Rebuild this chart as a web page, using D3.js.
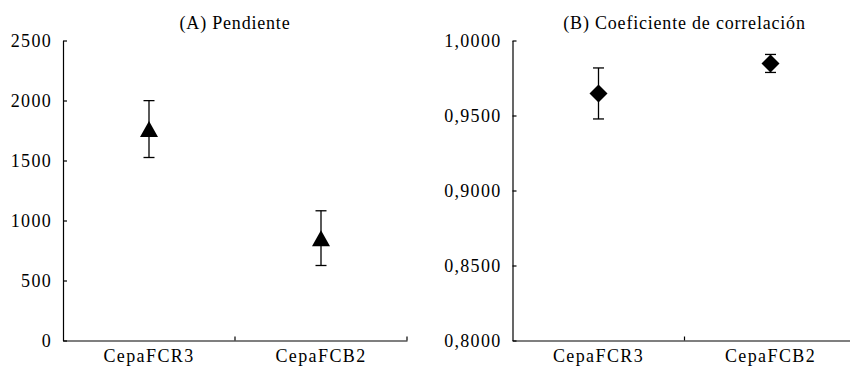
<!DOCTYPE html>
<html>
<head>
<meta charset="utf-8">
<script src="https://cdn.jsdelivr.net/npm/d3@7/dist/d3.min.js"></script>
<style>
  html, body { margin: 0; padding: 0; background: #fff; }
  svg { display: block; }
  text { font-family: "Liberation Serif", "Times New Roman", serif; fill: #000; }
</style>
</head>
<body>
<svg id="chart" width="850" height="366"></svg>
<script>
// Strains compared in both panels
const categories = ["CepaFCR3", "CepaFCB2"];

// (A) slope: mean and error-bar half-width
const slopeMean = [1762, 853];
const slopeErr = [237, 228];
const slopeTicks = [0, 500, 1000, 1500, 2000, 2500];

// (B) correlation coefficient: mean and error-bar half-width
const corrMean = [0.9647, 0.9847];
const corrErr = [0.0170, 0.0060];
const corrTicks = [0.80, 0.85, 0.90, 0.95, 1.00];

const titles = ["(A) Pendiente", "(B) Coeficiente de correlación"];

const esLocale = d3.formatLocale({ decimal: ",", thousands: ".", grouping: [3], currency: ["", " €"] });

const svg = d3.select("#chart");

function drawPanel(cfg) {
  const { left, right, top, bottom, domain, ticks, fmt, means, errs, symbol, symbolSize, title } = cfg;

  const x = d3.scaleBand().domain(categories).range([left, right]).padding(0);
  const y = d3.scaleLinear().domain(domain).range([bottom, top]);

  const g = svg.append("g");

  // Y axis with inward ticks
  const yAxis = d3.axisLeft(y)
    .tickValues(ticks)
    .tickFormat(fmt)
    .tickSizeInner(-4)
    .tickSizeOuter(0)
    .tickPadding(11);
  const yg = g.append("g").attr("transform", `translate(${left},0)`).call(yAxis);
  yg.select(".domain").attr("stroke", "#000").attr("stroke-width", 1.2);
  yg.selectAll(".tick line").attr("stroke", "#000").attr("stroke-width", 1.2);
  yg.selectAll(".tick text")
    .attr("font-size", 18)
    .attr("letter-spacing", 1.3)
    .attr("font-family", "Liberation Serif, serif");

  // X axis: baseline, category labels at band centres
  const xAxis = d3.axisBottom(x).tickSize(0).tickPadding(11);
  const xg = g.append("g").attr("transform", `translate(0,${bottom})`).call(xAxis);
  xg.select(".domain").attr("stroke", "#000").attr("stroke-width", 1.2);
  xg.selectAll(".tick text")
    .attr("font-size", 18)
    .attr("letter-spacing", 1.4)
    .attr("font-family", "Liberation Serif, serif")
    .attr("dy", "0.71em")
    .attr("y", 9);

  // Inward tick marks between categories (band boundaries)
  const bounds = categories.map(c => x(c)).concat([x(categories[categories.length - 1]) + x.bandwidth()]);
  g.selectAll(".xbound").data(bounds.slice(1)).join("line")
    .attr("x1", d => d).attr("x2", d => d)
    .attr("y1", bottom).attr("y2", bottom - 4)
    .attr("stroke", "#000").attr("stroke-width", 1.2);

  // Panel title centred over plot area
  g.append("text")
    .attr("x", (left + right) / 2)
    .attr("y", 29)
    .attr("text-anchor", "middle")
    .attr("font-size", 18)
    .attr("letter-spacing", 0.8)
    .text(title);

  const cx = i => x(categories[i]) + x.bandwidth() / 2;
  const capW = 5.5;

  const pts = g.selectAll(".pt").data(means.map((m, i) => ({ m, e: errs[i], i }))).join("g");

  pts.append("line")
    .attr("x1", d => cx(d.i)).attr("x2", d => cx(d.i))
    .attr("y1", d => y(d.m + d.e)).attr("y2", d => y(d.m - d.e))
    .attr("stroke", "#000").attr("stroke-width", 1.3);
  pts.append("line")
    .attr("x1", d => cx(d.i) - capW).attr("x2", d => cx(d.i) + capW)
    .attr("y1", d => y(d.m + d.e)).attr("y2", d => y(d.m + d.e))
    .attr("stroke", "#000").attr("stroke-width", 1.3);
  pts.append("line")
    .attr("x1", d => cx(d.i) - capW).attr("x2", d => cx(d.i) + capW)
    .attr("y1", d => y(d.m - d.e)).attr("y2", d => y(d.m - d.e))
    .attr("stroke", "#000").attr("stroke-width", 1.3);

  pts.append("path")
    .attr("transform", d => `translate(${cx(d.i)},${y(d.m)})`)
    .attr("d", symbol)
    .attr("fill", "#000");
}

// Triangle marker centred on its bounding box (18 wide, 16 tall)
const triPath = "M0,-8L9,8L-9,8Z";
// Diamond marker (18 x 18)
const diaPath = "M0,-9L9,0L0,9L-9,0Z";

drawPanel({
  left: 63, right: 407, top: 40.5, bottom: 340.5,
  domain: [0, 2500], ticks: slopeTicks,
  fmt: d3.format("d"),
  means: slopeMean, errs: slopeErr,
  symbol: triPath, title: titles[0]
});

drawPanel({
  left: 512.5, right: 856.5, top: 40.5, bottom: 340.5,
  domain: [0.80, 1.00], ticks: corrTicks,
  fmt: esLocale.format(".4f"),
  means: corrMean, errs: corrErr,
  symbol: diaPath, title: titles[1]
});
</script>
</body>
</html>
